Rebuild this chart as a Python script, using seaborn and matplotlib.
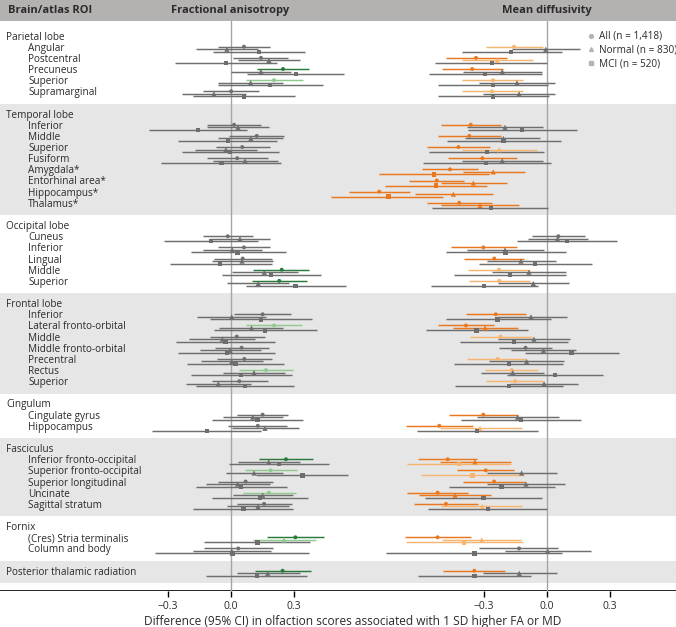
import numpy as np
import pandas as pd
import matplotlib
matplotlib.use("Agg")
import matplotlib.pyplot as plt
from matplotlib.lines import Line2D
import seaborn as sns


# =========================
# ROIs (same order as the table)
# =========================
SECTIONS = ["Parietal lobe", "Temporal lobe", "Occipital lobe", "Frontal lobe",
            "Cingulum", "Fasciculus", "Fornix", "Posterior thalamic radiation"]
ROIS = [
    ["Angular", "Postcentral", "Precuneus", "Superior", "Supramarginal"],
    ["Inferior", "Middle", "Superior", "Fusiform", "Amygdala*", "Entorhinal area*",
     "Hippocampus*", "Thalamus*"],
    ["Cuneus", "Inferior", "Lingual", "Middle", "Superior"],
    ["Inferior", "Lateral fronto-orbital", "Middle", "Middle fronto-orbital",
     "Precentral", "Rectus", "Superior"],
    ["Cingulate gyrus", "Hippocampus"],
    ["Inferior fronto-occipital", "Superior fronto-occipital", "Superior longitudinal",
     "Uncinate", "Sagittal stratum"],
    ["(Cres) Stria terminalis", "Column and body"],
    [],  # estimates sit on the section row itself
]
GROUPS = ["All", "Normal", "MCI"]
GROUP_LABELS = ["All (n = 1,418)", "Normal (n = 830)", "MCI (n = 520)"]
NA = np.nan

# =========================
# Fractional anisotropy: estimate, lower, upper, significance (0 ns, 1 light, 2 dark)
# =========================
fa_all_est = [0.064, 0.145, 0.25, 0.207, 0.003, 0.017, 0.125, 0.056, 0.032, NA, NA, NA, NA,
              -0.013, 0.064, 0.058, 0.244, 0.232, 0.153, 0.207, 0.03, 0.053, 0.066, 0.169, 0.042,
              0.153, 0.13, 0.264, 0.191, 0.072, 0.183, 0.16, 0.309, 0.037, 0.248]
fa_all_lo = [-0.06, 0.012, 0.126, 0.074, -0.13, -0.11, -0.007, -0.07, -0.11, NA, NA, NA, NA,
             -0.13, -0.06, -0.08, 0.109, 0.104, 0.018, 0.072, -0.10, -0.074, -0.063, 0.04, -0.087,
             0.03, -0.013, 0.137, 0.069, -0.058, 0.058, 0.03, 0.172, -0.126, 0.117]
fa_all_hi = [0.188, 0.274, 0.374, 0.345, 0.135, 0.145, 0.255, 0.19, 0.178, NA, NA, NA, NA,
             0.109, 0.19, 0.196, 0.375, 0.363, 0.29, 0.342, 0.166, 0.183, 0.196, 0.299, 0.177,
             0.275, 0.27, 0.391, 0.315, 0.201, 0.31, 0.291, 0.445, 0.201, 0.382]
fa_all_sig = [0, 0, 2, 1, 0, 0, 0, 0, 0, 0, 0, 0, 0,
              0, 0, 0, 2, 2, 0, 1, 0, 0, 0, 1, 0,
              0, 0, 2, 1, 0, 1, 0, 2, 0, 2]

fa_normal_est = [-0.017, 0.183, 0.145, 0.096, -0.079, 0.036, 0.097, -0.022, 0.069, NA, NA, NA, NA,
                 0.045, 0.009, 0.055, 0.161, 0.132, 0.006, 0.10, -0.039, -0.002, 0.006, 0.112, -0.058,
                 0.106, 0.164, 0.182, 0.112, 0.034, 0.153, 0.131, 0.255, 0.006, 0.177]
fa_normal_lo = [-0.165, 0.036, 0.0, -0.06, -0.23, -0.11, -0.06, -0.17, -0.085, NA, NA, NA, NA,
                -0.10, -0.13, -0.09, 0.006, -0.015, -0.158, -0.053, -0.196, -0.145, -0.142, -0.034, -0.212,
                -0.037, 0.006, 0.037, -0.023, -0.118, 0.01, -0.015, 0.106, -0.177, 0.03]
fa_normal_hi = [0.13, 0.331, 0.29, 0.25, 0.075, 0.185, 0.25, 0.128, 0.226, NA, NA, NA, NA,
                0.19, 0.149, 0.2, 0.323, 0.28, 0.169, 0.251, 0.117, 0.145, 0.156, 0.26, 0.098,
                0.249, 0.326, 0.331, 0.251, 0.188, 0.296, 0.28, 0.407, 0.191, 0.331]
fa_normal_sig = [0, 0, 0, 0, 0, 0, 0, 0, 0, 0, 0, 0, 0,
                 0, 0, 0, 0, 0, 0, 0, 0, 0, 0, 0, 0,
                 0, 0, 0, 0, 0, 0, 0, 1, 0, 0]

fa_mci_est = [0.136, -0.021, 0.312, 0.188, 0.063, -0.155, -0.012, -0.002, -0.042, NA, NA, NA, NA,
              -0.093, 0.034, -0.05, 0.193, 0.31, 0.144, 0.164, -0.023, -0.018, 0.023, 0.05, 0.069,
              0.128, -0.113, 0.231, 0.342, 0.05, 0.14, 0.061, 0.128, 0.009, 0.125]
fa_mci_lo = [-0.083, -0.264, 0.079, -0.06, -0.18, -0.39, -0.25, -0.23, -0.33, NA, NA, NA, NA,
             -0.317, -0.19, -0.29, -0.04, 0.072, -0.098, -0.079, -0.26, -0.249, -0.209, -0.188, -0.166,
             -0.087, -0.372, -0.006, 0.121, -0.166, -0.087, -0.177, -0.126, -0.36, -0.117]
fa_mci_hi = [0.355, 0.221, 0.54, 0.44, 0.307, 0.078, 0.22, 0.232, 0.24, NA, NA, NA, NA,
             0.131, 0.263, 0.196, 0.43, 0.55, 0.387, 0.41, 0.212, 0.212, 0.255, 0.291, 0.304,
             0.344, 0.145, 0.47, 0.56, 0.27, 0.37, 0.299, 0.379, 0.375, 0.366]
fa_mci_sig = [0] * 35

# =========================
# Mean diffusivity
# =========================
md_all_est = [-0.157, -0.338, -0.356, -0.257, -0.262, -0.363, -0.37, -0.422, -0.308, -0.462, -0.525, -0.799, -0.418,
              0.054, -0.303, -0.251, -0.229, -0.227, -0.244, -0.386, -0.221, -0.102, -0.235, -0.168, -0.152,
              -0.303, -0.513, -0.473, -0.292, -0.252, -0.521, -0.481, -0.521, -0.133, -0.346]
md_all_lo = [-0.292, -0.482, -0.5, -0.403, -0.406, -0.505, -0.518, -0.57, -0.47, -0.594, -0.657, -0.941, -0.57,
             -0.07, -0.459, -0.394, -0.378, -0.371, -0.386, -0.518, -0.367, -0.229, -0.382, -0.295, -0.292,
             -0.465, -0.673, -0.613, -0.43, -0.399, -0.665, -0.633, -0.676, -0.322, -0.494]
md_all_hi = [-0.017, -0.192, -0.21, -0.113, -0.116, -0.219, -0.219, -0.271, -0.144, -0.327, -0.394, -0.652, -0.263,
             0.181, -0.144, -0.11, -0.081, -0.081, -0.101, -0.252, -0.07, 0.022, -0.1, -0.041, -0.017,
             -0.14, -0.351, -0.332, -0.156, -0.105, -0.375, -0.327, -0.362, 0.051, -0.2]
md_all_sig = [1, 2, 2, 1, 1, 2, 2, 2, 2, 2, 2, 2, 2,
              0, 2, 2, 1, 1, 2, 2, 1, 0, 1, 1, 1,
              2, 2, 2, 2, 2, 2, 2, 2, 0, 2]

md_normal_est = [-0.006, -0.237, -0.213, -0.143, -0.133, -0.2, -0.208, -0.227, -0.213, -0.256, -0.351, -0.446, -0.319,
                 0.05, -0.2, -0.124, -0.086, -0.065, -0.076, -0.295, -0.062, -0.017, -0.097, -0.163, -0.014,
                 -0.14, -0.319, -0.343, -0.121, -0.1, -0.438, -0.308, -0.311, 0.003, -0.132]
md_normal_lo = [-0.165, -0.406, -0.399, -0.322, -0.303, -0.38, -0.39, -0.406, -0.406, -0.401, -0.505, -0.629, -0.505,
                -0.089, -0.382, -0.287, -0.263, -0.235, -0.24, -0.449, -0.235, -0.171, -0.275, -0.314, -0.176,
                -0.335, -0.51, -0.51, -0.287, -0.284, -0.61, -0.506, -0.499, -0.2, -0.306]
md_normal_hi = [0.157, -0.068, -0.022, 0.038, 0.038, -0.02, -0.033, -0.049, -0.018, -0.105, -0.192, -0.259, -0.132,
                0.197, -0.014, 0.041, 0.089, 0.105, 0.094, -0.137, 0.11, 0.137, 0.081, -0.014, 0.149,
                0.057, -0.121, -0.173, 0.046, 0.086, -0.267, -0.118, -0.124, 0.208, 0.046]
md_normal_sig = [0, 1, 0, 0, 0, 0, 0, 1, 0, 2, 2, 2, 2,
                 0, 0, 0, 0, 0, 0, 2, 0, 0, 0, 0, 0,
                 0, 1, 2, 0, 0, 2, 1, 1, 0, 0]

md_mci_est = [-0.17, -0.263, -0.294, -0.257, -0.256, -0.118, -0.208, -0.287, -0.29, -0.537, -0.529, -0.755, -0.268,
              0.094, -0.197, -0.057, -0.176, -0.299, -0.235, -0.335, -0.156, 0.117, -0.181, 0.038, -0.18,
              -0.125, -0.332, -0.418, -0.354, -0.216, -0.303, -0.282, -0.394, -0.346, -0.346]
md_mci_lo = [-0.406, -0.533, -0.56, -0.518, -0.518, -0.378, -0.478, -0.56, -0.589, -0.799, -0.771, -1.03, -0.546,
             -0.141, -0.481, -0.324, -0.443, -0.554, -0.483, -0.578, -0.414, -0.105, -0.441, -0.189, -0.438,
             -0.411, -0.618, -0.668, -0.601, -0.467, -0.581, -0.565, -0.671, -0.767, -0.613]
md_mci_hi = [0.07, 0.002, -0.025, 0.006, 0.01, 0.144, 0.065, -0.013, 0.018, -0.276, -0.287, -0.494, 0.006,
             0.332, 0.089, 0.213, 0.089, -0.041, 0.018, -0.089, 0.102, 0.343, 0.078, 0.268, 0.078,
             0.16, -0.044, -0.173, -0.108, 0.038, -0.025, 0.002, -0.113, 0.073, -0.078]
md_mci_sig = [0, 0, 0, 0, 0, 0, 0, 0, 0, 2, 2, 2, 0,
              0, 0, 0, 0, 0, 0, 0, 0, 0, 0, 0, 0,
              0, 0, 1, 1, 0, 0, 0, 1, 0, 0]

GRAY = "#6e6e6e"
COLORS = {
    "FA": {0: GRAY, 1: "#8fcb8f", 2: "#2b7a3c"},
    "MD": {0: GRAY, 1: "#f6b672", 2: "#e9781f"},
}
MARKERS = {"All": "o", "Normal": "^", "MCI": "s"}
MSIZE = {"All": 8, "Normal": 14, "MCI": 10}
SUB_OFFSET = {"All": -0.13, "Normal": 0.10, "MCI": 0.32}

# =========================
# row layout (one unit = one text row)
# =========================
header_rows, roi_rows, roi_names, bands = [], [], [], []
r = 0
for sec, items in zip(SECTIONS, ROIS):
    header_rows.append(r)
    start = r
    if items:
        for it in items:
            r += 1
            roi_rows.append(r)
            roi_names.append(it)
    else:
        roi_rows.append(r)
    bands.append((start - 1, r + 1))
    r += 2

PX = 11.15          # px per row
Y0 = 37             # px of first row
Y_TOP = -Y0 / PX
Y_BOT = (591 - Y0) / PX
Y_HEAD = (21 - Y0) / PX

# long table
est = {("FA", "All"): fa_all_est, ("FA", "Normal"): fa_normal_est, ("FA", "MCI"): fa_mci_est,
       ("MD", "All"): md_all_est, ("MD", "Normal"): md_normal_est, ("MD", "MCI"): md_mci_est}
lo = {("FA", "All"): fa_all_lo, ("FA", "Normal"): fa_normal_lo, ("FA", "MCI"): fa_mci_lo,
      ("MD", "All"): md_all_lo, ("MD", "Normal"): md_normal_lo, ("MD", "MCI"): md_mci_lo}
hi = {("FA", "All"): fa_all_hi, ("FA", "Normal"): fa_normal_hi, ("FA", "MCI"): fa_mci_hi,
      ("MD", "All"): md_all_hi, ("MD", "Normal"): md_normal_hi, ("MD", "MCI"): md_mci_hi}
sig = {("FA", "All"): fa_all_sig, ("FA", "Normal"): fa_normal_sig, ("FA", "MCI"): fa_mci_sig,
       ("MD", "All"): md_all_sig, ("MD", "Normal"): md_normal_sig, ("MD", "MCI"): md_mci_sig}

recs = []
for key in est:
    m, g = key
    for i, yr in enumerate(roi_rows):
        recs.append(dict(measure=m, group=g, y=yr + SUB_OFFSET[g],
                         est=est[key][i], lo=lo[key][i], hi=hi[key][i],
                         color=COLORS[m][sig[key][i]]))
df = pd.DataFrame(recs).dropna()

# =========================
# figure
# =========================
sns.set_theme(style="white")
plt.rcParams["font.family"] = ["Open Sans", "DejaVu Sans"]
TXT = "#2b2b2b"

fig = plt.figure(figsize=(6.76, 6.27), dpi=100)
bottom = 1 - 591 / 627
height = 591 / 627
split = 340 / 676

bg = fig.add_axes([0, bottom, 1, height])
bg.set_xlim(0, 1)
bg.set_ylim(Y_BOT, Y_TOP)
bg.axis("off")
bg.axhspan(Y_TOP, Y_HEAD, color="#b4b1b1", lw=0)
for k, (a, b) in enumerate(bands):
    if k % 2 == 1:
        bg.axhspan(a, min(b, 49.1), color="#e6e6e6", lw=0)
bg.axhline(Y_BOT, color="black", lw=1.2)

ax_fa = fig.add_axes([0, bottom, split, height])
ax_md = fig.add_axes([split, bottom, 1 - split, height])
ax_fa.set_xlim(-230.5 / 210, (340 - 230.5) / 210)
ax_md.set_xlim((340 - 547) / 210, (676 - 547) / 210)

for ax, m in [(ax_fa, "FA"), (ax_md, "MD")]:
    ax.set_facecolor("none")
    ax.set_ylim(Y_BOT, Y_TOP)
    for s in ax.spines.values():
        s.set_visible(False)
    ax.set_yticks([])
    ax.set_xticks([-0.3, 0.0, 0.3])
    ax.set_xticklabels(["\u22120.3", "0.0", "0.3"])
    ax.tick_params(axis="x", bottom=True, length=4, width=1, color="black",
                   labelsize=7.5, labelcolor=TXT, pad=3)
    ax.plot([0, 0], [Y_HEAD, Y_BOT], color="#a5a5a5", lw=1, zorder=1)
    sub = df[df.measure == m]
    ax.hlines(sub.y, sub.lo, sub.hi, colors=sub.color, lw=1.05, zorder=2, clip_on=False)
    for g in GROUPS:
        gs = sub[sub.group == g]
        sns.scatterplot(data=gs, x="est", y="y", hue="color", palette={c: c for c in gs.color.unique()},
                        marker=MARKERS[g], s=MSIZE[g], linewidth=0, legend=False, ax=ax,
                        zorder=3, clip_on=False)
    ax.set_xlabel("")
    ax.set_ylabel("")

# header texts
ax_fa.text(8 / 340, Y_HEAD / 2 + Y_TOP / 2, "Brain/atlas ROI", transform=ax_fa.get_yaxis_transform(),
           fontsize=8, fontweight="bold", color=TXT, va="center", ha="left")
ax_fa.text(0, Y_HEAD / 2 + Y_TOP / 2, "Fractional anisotropy", fontsize=8, fontweight="bold",
           color=TXT, va="center", ha="center")
ax_md.text(0, Y_HEAD / 2 + Y_TOP / 2, "Mean diffusivity", fontsize=8, fontweight="bold",
           color=TXT, va="center", ha="center")

# row labels
for sec, yr in zip(SECTIONS, header_rows):
    ax_fa.text(6 / 340, yr, sec, transform=ax_fa.get_yaxis_transform(), fontsize=7.2,
               color=TXT, va="center", ha="left")
k = 0
for items in ROIS:
    for it in items:
        ax_fa.text(28 / 340, roi_rows[k], it, transform=ax_fa.get_yaxis_transform(), fontsize=7.2,
                   color=TXT, va="center", ha="left")
        k += 1
    if not items:
        k += 1

handles = [Line2D([], [], ls="", marker=MARKERS[g], color="#b5b5b5", markersize=2.8) for g in GROUPS]
ax_md.legend(handles, GROUP_LABELS, loc="upper left", bbox_to_anchor=(582 / 676, 1 - 26 / 627),
             bbox_transform=fig.transFigure, frameon=False, fontsize=7.2, handlelength=0.8,
             handletextpad=0.4, labelspacing=0.25, borderpad=0, labelcolor=TXT)

fig.text(353 / 676, 1 - 621 / 627,
         "Difference (95% CI) in olfaction scores associated with 1 SD higher FA or MD",
         fontsize=8.6, color=TXT, ha="center", va="center")

fig.savefig("out.png", dpi=100)
